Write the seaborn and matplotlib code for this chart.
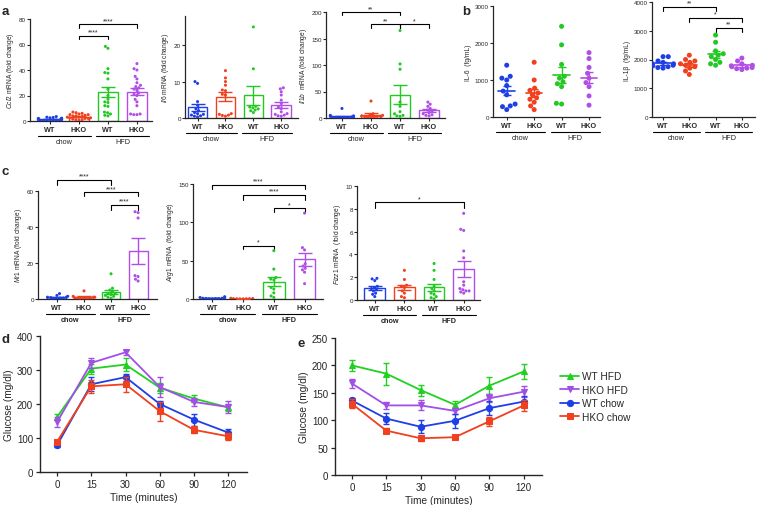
import numpy as np
import pandas as pd
import matplotlib
matplotlib.use("Agg")
import matplotlib.pyplot as plt
import seaborn as sns

sns.set_style("ticks")
plt.rcParams['font.family'] = ['Liberation Sans', 'DejaVu Sans']
plt.rcParams['mathtext.fontset'] = 'custom'
plt.rcParams['mathtext.it'] = 'Liberation Sans:italic'
plt.rcParams['mathtext.rm'] = 'Liberation Sans'

# groups / colours
groups = ["WT chow", "HKO chow", "WT HFD", "HKO HFD"]
group_ticks = ["WT", "HKO", "WT", "HKO"]
colors = ["#1f3fe6", "#f0401e", "#22c922", "#b04ee6"]

# panel a - hepatic mRNA (fold change), one list per group
ccl2 = [[3.5, 3, 2.8, 2.5, 2.2, 2, 2, 1.8, 1.5, 1.5, 1.2, 1, 1, 0.8, 0.6, 0.5, 0.4, 0.3, 0.2, 0.1],
        [7, 6.5, 6, 5.5, 5, 5, 4.5, 4, 4, 3.5, 3, 3, 2.5, 2.5, 2, 2, 1.5, 1, 1, 0.5],
        [58.5, 57, 41, 38, 37.5, 33, 25, 20, 17, 15, 14.5, 12, 11.5, 7, 6.5, 5.5, 4.5, 4],
        [45, 41, 40, 35, 33, 30, 28, 27, 26, 25, 24, 22, 21, 20, 17, 15, 12, 5.5, 5.5, 5, 5]]
il6 = [[10, 9.5, 4.5, 3.5, 2.5, 2, 1.5, 1.2, 1, 0.8, 0.6, 0.5, 0.3],
       [13, 11, 10, 9, 7.7, 7.5, 6.5, 6.3, 1.2, 0.8, 0.7, 0.5, 1.0],
       [25, 13.5, 3, 2.5, 2, 1.5, 2.8, 3.2, 2.2],
       [8.3, 8, 7.2, 6.3, 4.9, 4, 3, 2.6, 1.7, 1.2, 1, 0.8, 0.6, 0.5]]
il1b = [[18, 5, 4, 3, 2, 2, 1.5, 1, 1, 0.5, 0.5, 0.3],
        [32, 8, 6, 5, 4, 3, 3, 2, 1.5, 1, 0.5],
        [165, 102, 92, 30, 22, 12, 8, 5, 4, 3],
        [30, 26, 22, 18, 15, 12, 10, 8, 6, 5, 4]]

# panel b - serum cytokines (fg/mL)
il6_serum = [[1400, 1100, 1050, 1000, 850, 700, 600, 350, 300, 280, 200],
             [1480, 1000, 780, 720, 650, 600, 520, 480, 400, 300, 200],
             [2450, 1950, 1420, 1100, 1050, 900, 950, 820, 370, 350],
             [1740, 1580, 1340, 1180, 1050, 930, 820, 570, 320]]
il1b_serum = [[2100, 2100, 1950, 1900, 1850, 1850, 1800, 1780, 1750, 1720, 1700],
              [2150, 2000, 1950, 1900, 1850, 1800, 1750, 1700, 1600, 1480],
              [2850, 2600, 2300, 2200, 2150, 2100, 2000, 1900, 1850, 1800],
              [2050, 1950, 1850, 1800, 1780, 1750, 1720, 1700, 1680, 1650]]

# panel c - M2 markers (fold change)
mr1 = [[3, 2, 1.5, 1, 1, 0.8, 0.5, 0.5, 0.3, 0.2],
       [4.5, 1.5, 1, 1, 0.8, 0.6, 0.5, 0.5, 0.5, 0.3],
       [14, 6, 5, 4, 3, 3, 2.5, 2, 1.5, 1, 0.5],
       [48.5, 48, 45, 13, 12.5, 11, 10]]
arg1 = [[3, 2, 1.5, 1, 1, 0.8, 0.5, 0.5, 0.3, 0.2],
        [1, 0.6, 0.5, 0.4, 0.3, 0.3, 0.2, 0.2],
        [63, 39, 28, 26, 25, 15, 13, 8, 4, 2],
        [112, 67, 64, 46, 43, 40, 38, 35, 20]]
fizz1 = [[1.9, 1.85, 1.7, 1.2, 1.1, 1.0, 0.9, 0.8, 0.6, 0.5, 0.3],
         [2.6, 1.8, 1.3, 1.2, 1.1, 0.8, 0.6, 0.3, 0.2],
         [3.2, 2.6, 1.8, 1.2, 1.0, 0.8, 0.6, 0.5, 0.3, 0.2, 0.1],
         [7.6, 6.2, 6.1, 4.3, 3.7, 1.6, 1.3, 1.0, 0.9, 0.8, 0.8, 0.7, 0.6]]

# panels d / e - glucose (mg/dl), mean and SEM
times = ["0", "15", "30", "60", "90", "120"]
series_names = ["WT HFD", "HKO HFD", "WT chow", "HKO chow"]
gtt_mean = [[162, 304, 316, 248, 216, 190],
            [147, 321, 352, 250, 206, 191],
            [79, 258, 279, 200, 154, 116],
            [89, 252, 258, 179, 124, 105]]
gtt_err = [[10, 15, 20, 15, 10, 10],
           [15, 15, 8, 28, 12, 18],
           [5, 20, 10, 8, 18, 10],
           [5, 20, 22, 28, 10, 10]]
itt_mean = [[200, 185, 155, 128, 163, 189],
            [167, 127, 127, 117, 140, 152],
            [136, 103, 88, 99, 122, 134],
            [130, 81, 67, 69, 98, 127]]
itt_err = [[10, 20, 10, 7, 15, 14],
           [8, 7, 9, 5, 7, 10],
           [5, 10, 12, 13, 13, 10],
           [8, 4, 5, 4, 8, 10]]
line_colors = ["#22d022", "#a050e6", "#1f3fe6", "#f0401e"]
line_markers = ["^", "v", "o", "s"]

W, H = 757, 506
fig = plt.figure(figsize=(W / 100, H / 100), dpi=100)


def add_ax(x0, y0, x1, y1):
    return fig.add_axes([x0 / W, 1 - y1 / H, (x1 - x0) / W, (y1 - y0) / H])


def to_df(vals):
    return pd.DataFrame({"group": np.repeat(groups, [len(v) for v in vals]),
                         "value": np.concatenate(vals)})


def bar_panel(ax, vals, ylim, yticks, ylabel, xlim, bars=True, diet_bold=False, dot=2.2):
    df = to_df(vals)
    stats = df.groupby("group", sort=False)["value"].agg(["mean", "sem"])
    if bars:
        sns.barplot(data=df, x="group", y="value", hue="group", order=groups,
                    hue_order=groups, palette=colors, errorbar=None, fill=False,
                    width=0.7, linewidth=1, ax=ax, legend=False)
    sns.swarmplot(data=df, x="group", y="value", hue="group", order=groups,
                  hue_order=groups, palette=colors, size=dot, ax=ax, legend=False,
                  warn_thresh=1)
    for i, g in enumerate(groups):
        m, s = stats.loc[g, "mean"], stats.loc[g, "sem"]
        ax.errorbar(i, m, yerr=s, color=colors[i], capsize=5 if bars else 3,
                    lw=1, capthick=1, zorder=4)
        if not bars:
            ax.plot([i - 0.3, i + 0.3], [m, m], color=colors[i], lw=1.2, zorder=4)
    ax.set_xlim(*xlim)
    ax.set_ylim(*ylim)
    ax.set_yticks(yticks)
    ax.set_xticks(range(4))
    ax.set_xticklabels(group_ticks, fontweight="bold", fontsize=5.2)
    ax.set_xlabel("")
    ax.set_ylabel(ylabel, fontsize=4.8, labelpad=2)
    ax.tick_params(axis="y", labelsize=4.5, length=2, width=0.8, pad=1)
    ax.tick_params(axis="x", length=2, width=0.8, pad=1.5)
    sns.despine(ax=ax)
    for sp in ["left", "bottom"]:
        ax.spines[sp].set_linewidth(0.9)
    hpx = ax.get_position().height * H
    tr = ax.get_xaxis_transform()
    for a, b, name in [(0, 1, "chow"), (2, 3, "HFD")]:
        ax.plot([a - 0.4, b + 0.4], [-15 / hpx] * 2, color="k", lw=0.8,
                transform=tr, clip_on=False)
        ax.text((a + b) / 2, -17 / hpx, name, transform=tr, ha="center", va="top",
                fontsize=5.2, fontweight="bold" if diet_bold else "normal")


def bracket(ax, i, j, y, drop, label):
    ax.plot([i, i, j, j], [y - drop, y, y, y - drop], color="k", lw=0.8, clip_on=False)
    ax.text((i + j) / 2, y, label, ha="center", va="bottom", fontsize=5, clip_on=False)


# ---- row a
ax = add_ax(30, 20, 152, 122)
bar_panel(ax, ccl2, (0, 80), [0, 20, 40, 60, 80], r"$\it{Ccl2}$ mRNA (fold change)", (-0.69, 3.52))
bracket(ax, 1, 2, 66.8, 2.6, "****")
bracket(ax, 1, 3, 75.7, 2.6, "****")

ax = add_ax(185, 17, 298, 119)
bar_panel(ax, il6, (0, 28), [0, 10, 20], r"$\it{Il6}$ mRNA (fold change)", (-0.45, 3.6))

ax = add_ax(326, 13, 445, 119)
bar_panel(ax, il1b, (0, 200), [0, 50, 100, 150, 200], r"$\it{Il1b}$  mRNA (fold change)", (-0.55, 3.55))
bracket(ax, 0, 2, 200, 6, "**")
bracket(ax, 1, 2, 177, 8, "**")
bracket(ax, 2, 3, 177, 8, "*")

# ---- row b
ax = add_ax(493, 7, 600, 118)
bar_panel(ax, il6_serum, (0, 3000), [0, 1000, 2000, 3000], "IL-6  (fg/mL)", (-0.5, 3.4),
          bars=False, dot=3.6)

ax = add_ax(652, 3, 755, 118)
bar_panel(ax, il1b_serum, (0, 4000), [0, 1000, 2000, 3000, 4000], "IL-1β  (fg/mL)", (-0.42, 3.5),
          bars=False, dot=3.6)
bracket(ax, 0, 2, 3840, 150, "**")
bracket(ax, 1, 3, 3457, 140, "*")
bracket(ax, 2, 3, 3109, 140, "**")

# ---- row c
ax = add_ax(38, 192, 157, 300)
bar_panel(ax, mr1, (0, 60), [0, 20, 40, 60], r"$\it{Mr1}$ mRNA (fold change)", (-0.7, 3.7),
          diet_bold=True)
bracket(ax, 0, 2, 66.3, 2.8, "****")
bracket(ax, 1, 3, 59.3, 2.3, "****")
bracket(ax, 2, 3, 52.4, 2.8, "****")

ax = add_ax(193, 185, 323, 300)
bar_panel(ax, arg1, (0, 150), [0, 50, 100, 150], r"$\it{Arg1}$ mRNA  (fold change)", (-0.63, 3.6),
          diet_bold=True)
bracket(ax, 0, 3, 149, 5.5, "****")
bracket(ax, 1, 3, 136, 6.5, "****")
bracket(ax, 2, 3, 118.3, 5.3, "*")
bracket(ax, 1, 2, 69.5, 4.5, "*")

ax = add_ax(357, 187, 480, 301)
bar_panel(ax, fizz1, (0, 10), [0, 2, 4, 6, 8, 10], r"$\it{Fizz1}$ mRNA  (fold change)", (-0.6, 3.55),
          diet_bold=True)
bracket(ax, 0, 3, 8.6, 0.5, "*")


# ---- rows d / e
def line_panel(ax, means, errs, ylim, yticks, xlim, legend=False):
    x = np.arange(len(times))
    for name, m, e, c, mk in zip(series_names, means, errs, line_colors, line_markers):
        sns.lineplot(x=x, y=m, color=c, marker=mk, markersize=4.5, markeredgecolor=c,
                     lw=1.3, ax=ax, label=name)
        ax.errorbar(x, m, yerr=e, fmt="none", ecolor=c, capsize=2.5, lw=1, capthick=1)
    ax.set_xticks(x)
    ax.set_xticklabels(times)
    ax.set_xlim(*xlim)
    ax.set_ylim(*ylim)
    ax.set_yticks(yticks)
    ax.set_xlabel("Time (minutes)", fontsize=7.3, labelpad=2)
    ax.set_ylabel("Glucose (mg/dl)", fontsize=7.3, labelpad=2)
    ax.tick_params(labelsize=7, length=3, width=0.9, pad=2)
    sns.despine(ax=ax)
    for sp in ["left", "bottom"]:
        ax.spines[sp].set_linewidth(1)
    if legend:
        ax.legend(loc="upper left", bbox_to_anchor=(555 / W, 1 - 367 / H),
                  bbox_transform=fig.transFigure, frameon=False, fontsize=7.3,
                  handlelength=1.9, handletextpad=0.3, labelspacing=0.35, borderpad=0)
    else:
        ax.get_legend().remove()


ax = add_ax(40, 337, 247, 473)
line_panel(ax, gtt_mean, gtt_err, (0, 400), [0, 100, 200, 300, 400], (-0.5, 5.55))

ax = add_ax(335, 339, 542, 476)
line_panel(ax, itt_mean, itt_err, (0, 250), [0, 50, 100, 150, 200, 250], (-0.49, 5.53), legend=True)

# panel letters
for letter, x, y in [("a", 2, 12), ("b", 462, 12), ("c", 2, 172), ("d", 2, 340), ("e", 297, 344)]:
    fig.text(x / W, 1 - y / H, letter, fontsize=9.5, fontweight="bold", va="center")

fig.savefig("out.png", dpi=100)
